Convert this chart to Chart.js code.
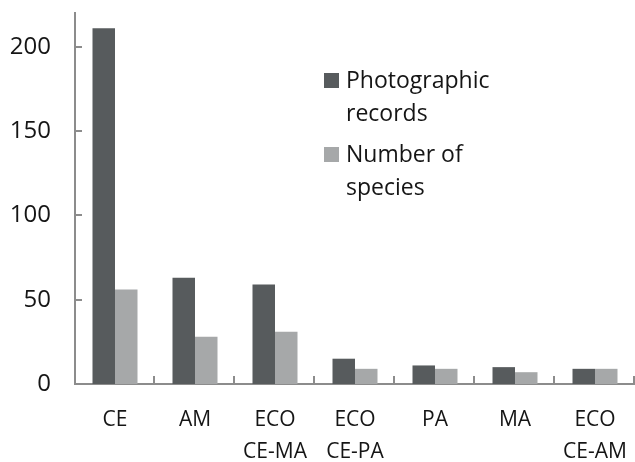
<!DOCTYPE html>
<html>
<head>
<meta charset="utf-8">
<script src="https://cdn.jsdelivr.net/npm/chart.js@4"></script>
<style>
  html, body { margin: 0; padding: 0; background: #fff; }
  #wrap { width: 635px; height: 462px; }
</style>
</head>
<body>
<div id="wrap"><canvas id="barChart"></canvas></div>
<script>
// Datos del gráfico
const categories = ['CE', 'AM', ['ECO', 'CE-MA'], ['ECO', 'CE-PA'], 'PA', 'MA', ['ECO', 'CE-AM']];
const photoRecords = [211, 63, 59, 15, 11, 10, 9];
const numSpecies = [56, 28, 31, 9, 9, 7, 9];
const seriesNames = [['Photographic', 'records'], ['Number of', 'species']];
const yTicks = [0, 50, 100, 150, 200];

const darkColor = '#575b5d';
const lightColor = '#a6a8a9';
const axisColor = '#8c8c8c';
const textColor = '#151515';
const fontFamily = '"Open Sans", sans-serif';

// Marcas de los ejes hacia dentro y leyenda dentro del área
const extras = {
  id: 'extras',
  afterDraw(chart) {
    const { ctx, scales: { x, y } } = chart;
    ctx.save();
    ctx.strokeStyle = axisColor;
    ctx.lineWidth = 2;
    ctx.beginPath();
    y.ticks.forEach(t => {
      if (t.value === 0) return;
      const py = Math.round(y.getPixelForValue(t.value));
      ctx.moveTo(x.left, py);
      ctx.lineTo(x.left + 7, py);
    });
    const w = x.width / categories.length;
    for (let i = 1; i <= categories.length; i++) {
      const px = Math.round(x.left + i * w) - 1;
      ctx.moveTo(px, y.bottom);
      ctx.lineTo(px, y.bottom - 8);
    }
    ctx.stroke();

    // leyenda
    ctx.font = '23px ' + fontFamily;
    ctx.textBaseline = 'alphabetic';
    const colors = chart.data.datasets.map(d => d.backgroundColor);
    const starts = [88, 162];
    seriesNames.forEach((lines, i) => {
      ctx.fillStyle = colors[i];
      ctx.fillRect(324, starts[i] - 15, 15, 15);
      ctx.fillStyle = textColor;
      lines.forEach((ln, j) => ctx.fillText(ln, 346, starts[i] + j * 33));
    });
    ctx.restore();
  }
};

const ctx = document.getElementById('barChart').getContext('2d');
const barChart = new Chart(ctx, {
  type: 'bar',
  data: {
    labels: categories,
    datasets: [{
      label: seriesNames[0].join(' '),
      data: photoRecords,
      backgroundColor: darkColor,
    }, {
      label: seriesNames[1].join(' '),
      data: numSpecies,
      backgroundColor: lightColor,
    }]
  },
  options: {
    responsive: true,
    maintainAspectRatio: false,
    animation: false,
    categoryPercentage: 0.5625,
    barPercentage: 1,
    layout: { padding: { top: 13, right: 0, left: 0, bottom: 0 } },
    plugins: {
      legend: { display: false },
      tooltip: { enabled: false }
    },
    scales: {
      x: {
        grid: { display: false, drawTicks: false },
        border: { display: true, color: axisColor, width: 2 },
        ticks: {
          color: textColor,
          font: { family: fontFamily, size: 21, lineHeight: 1.52 },
          padding: 20,
          maxRotation: 0,
          autoSkip: false
        },
        afterFit(scale) {
          scale.height = 78;
          scale.paddingLeft = 0;
          scale.paddingRight = 0;
        }
      },
      y: {
        min: 0,
        max: 220,
        grid: { display: false, drawTicks: false },
        border: { display: true, color: axisColor, width: 2 },
        afterBuildTicks(scale) {
          scale.ticks = yTicks.map(v => ({ value: v }));
        },
        ticks: {
          color: textColor,
          font: { family: fontFamily, size: 24 },
          padding: 24
        },
        afterFit(scale) {
          scale.width = 75;
          scale.paddingTop = 0;
          scale.paddingBottom = 0;
        }
      }
    }
  },
  plugins: [extras]
});
</script>
</body>
</html>
